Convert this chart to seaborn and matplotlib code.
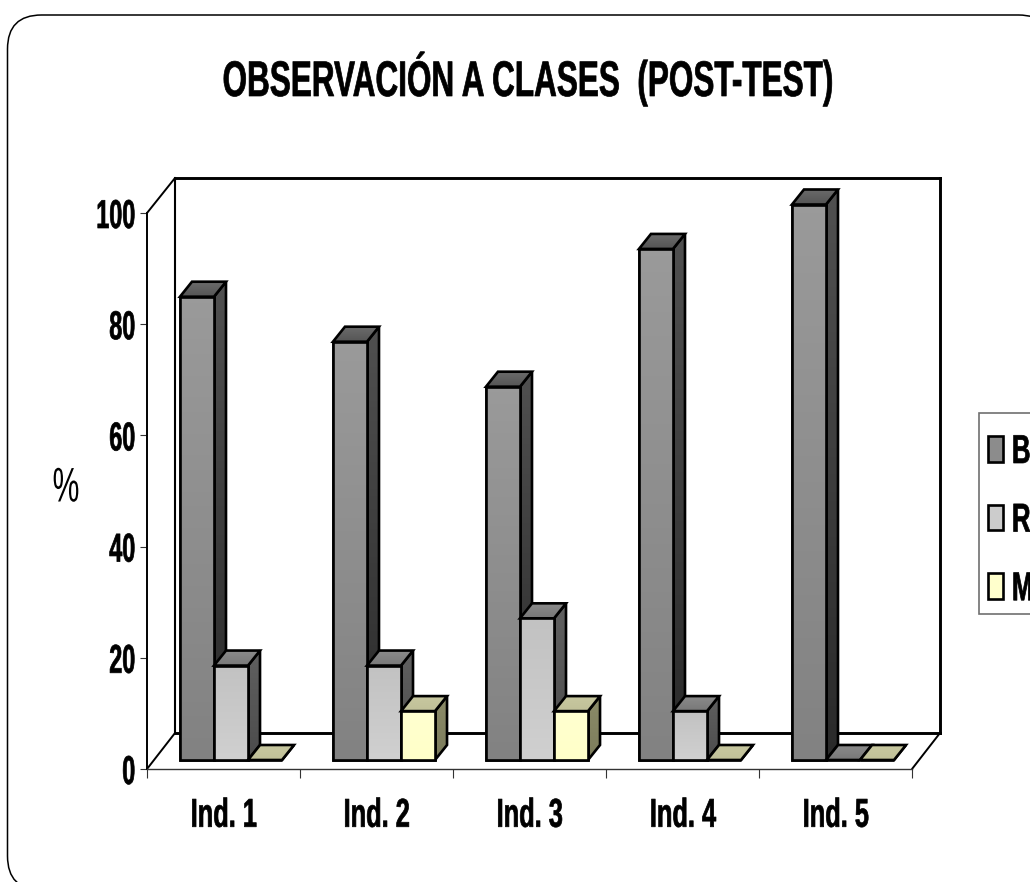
import matplotlib
matplotlib.use('Agg')
import matplotlib.pyplot as plt
import numpy as np
import pandas as pd
import seaborn as sns
from matplotlib.colors import LinearSegmentedColormap
from matplotlib.patches import ConnectionPatch, FancyBboxPatch, Polygon, Rectangle
from matplotlib.patheffects import AbstractPathEffect
from matplotlib.transforms import Affine2D, IdentityTransform

# data
indicadores = ['Ind. 1', 'Ind. 2', 'Ind. 3', 'Ind. 4', 'Ind. 5']
serie_b = [83.4, 75.3, 67.2, 92, 100]
serie_r = [17, 17, 25.5, 8.8, 0]
serie_m = [0, 8.8, 8.8, 0, 0]
y_ticks = [0, 20, 40, 60, 80, 100]

W, H = 1030, 882
# depth of the fake 3d bars, group width is 153 px and 1% is 5.55 px
DX = 12 / 153
DY = 15 / 5.55
LW = 1.9

# colors: front top/bottom, side top/bottom, lid top/bottom
colores = {
    'B': ['#9a9a9a', '#828282', '#505050', '#2a2a2a', '#6c6c6c', '#555555'],
    'R': ['#c2c2c2', '#d0d0d0', '#606060', '#4c4c4c', '#8c8c8c', '#787878'],
    'M': ['#ffffd0', '#ffffc8', '#8c8c68', '#7c7c5c', '#c8c8a0', '#c0c098'],
}


class Squeeze(AbstractPathEffect):
    # the reference text is arial squeezed sideways and a bit heavier
    def __init__(self, factor, anchor=0.5, stroke=0.0):
        super().__init__()
        self.factor = factor
        self.anchor = anchor
        self.stroke = stroke

    def draw_path(self, renderer, gc, tpath, affine, rgbFace=None):
        box = tpath.transformed(affine).get_extents()
        x0 = box.x0 + self.anchor * box.width
        new = affine + Affine2D().translate(-x0, 0).scale(self.factor, 1).translate(x0, 0)
        gc0 = renderer.new_gc()
        gc0.copy_properties(gc)
        gc0.set_linewidth(self.stroke)
        gc0.set_foreground('black')
        renderer.draw_path(gc0, tpath, new, rgbFace)
        gc0.restore()


def px_axes(left, top, right, bottom, z):
    ax = fig.add_axes([left / W, 1 - bottom / H, (right - left) / W, (bottom - top) / H], zorder=z)
    ax.patch.set_alpha(0)
    return ax


def shaded(ax, xy, c_top, c_bottom, z):
    xy = np.array(xy)
    poly = Polygon(xy, closed=True, fc=c_bottom, ec='none', zorder=z, clip_on=False)
    ax.add_patch(poly)
    cmap = LinearSegmentedColormap.from_list('g', [c_top, c_bottom])
    ext = (xy[:, 0].min(), xy[:, 0].max(), xy[:, 1].min(), xy[:, 1].max())
    im = ax.imshow(np.linspace(0, 1, 64).reshape(-1, 1), cmap=cmap, extent=ext, origin='upper',
                   aspect='auto', zorder=z + 0.1)
    im.set_clip_box(fig.bbox)
    im.set_clip_path(poly)
    ax.add_patch(Polygon(xy, closed=True, fill=False, ec='black', lw=LW, zorder=z + 0.2,
                         clip_on=False, joinstyle='miter'))


sns.set_theme(style='white')
plt.rcParams['font.family'] = ['Liberation Sans', 'DejaVu Sans']

fig = plt.figure(figsize=(W / 100, H / 100), dpi=100)

# rounded frame, runs off the right and bottom of the canvas
fig.add_artist(FancyBboxPatch((7.5, H - 890), 1045, 875, boxstyle='round,pad=0,rounding_size=34',
                              fc='white', ec='black', lw=1.1, transform=IdentityTransform()))
# legend frame, also runs off the right edge
fig.add_artist(Rectangle((979, H - 614), 70, 201, fc='white', ec='#707070', lw=1.2,
                         transform=IdentityTransform()))

# back wall
ax_back = px_axes(175, 178, 940, 733, 1)
ax_back.set_xticks([])
ax_back.set_yticks([])
for s in ax_back.spines.values():
    s.set_linewidth(2.1)
    s.set_color('black')
ax_back.spines['left'].set_linewidth(1.5)

# front plane with the real axis
ax_front = px_axes(147, 213, 912, 769, 2)
ax_front.set_xlim(-0.5, 4.5)
ax_front.set_ylim(0, 100)
ax_front.spines['top'].set_visible(False)
ax_front.spines['right'].set_visible(False)
ax_front.spines['left'].set_linewidth(1.4)
ax_front.spines['left'].set_color('black')
ax_front.spines['bottom'].set_linewidth(1.0)
ax_front.spines['bottom'].set_color('#333333')
ax_front.set_yticks(y_ticks)
ax_front.set_xticks(np.arange(-0.5, 5))
ax_front.set_xticklabels([])
ax_front.set_xticks(range(5), indicadores, minor=True)
ax_front.tick_params(axis='y', length=5, width=0.8, color='#333333', left=True, pad=3)
ax_front.tick_params(axis='x', which='major', length=6.5, width=0.8, color='#333333', bottom=True)
ax_front.tick_params(axis='x', which='minor', length=0, pad=20)
for t in ax_front.get_yticklabels():
    t.set_fontsize(29)
    t.set_fontweight('bold')
    t.set_color('black')
    t.set_path_effects([Squeeze(0.58, 1, 0.5)])
for t in ax_front.get_xticklabels(minor=True):
    t.set_fontsize(29)
    t.set_fontweight('bold')
    t.set_color('black')
    t.set_path_effects([Squeeze(0.63, 0.5, 0.5)])
ylab = ax_front.set_ylabel('%', rotation=0, fontsize=35, color='black', ha='center', va='center')
ax_front.yaxis.set_label_coords((66 - 147) / 765, (769 - 489) / 556)
ylab.set_path_effects([Squeeze(0.62)])

# side lines between the planes
for a, b in [((0, 1), (0, 1)), ((0, 0), (0, 0)), ((1, 0), (1, 0))]:
    fig.add_artist(ConnectionPatch(a, b, coordsA=ax_front.transAxes, coordsB=ax_back.transAxes,
                                   color='black', lw=1.4))

# bars
df = pd.DataFrame({
    'ind': indicadores * 3,
    'serie': ['B'] * 5 + ['R'] * 5 + ['M'] * 5,
    'valor': serie_b + serie_r + serie_m,
})
ax = px_axes(154.5, 204.5, 919.5, 760, 3)
sns.barplot(data=df, x='ind', y='valor', hue='serie', ax=ax, width=0.667, gap=0,
            palette={'B': '#8c8c8c', 'R': '#cccccc', 'M': '#ffffcc'},
            edgecolor='black', linewidth=LW, saturation=1, clip_on=False)
ax.set_xlim(-0.5, 4.5)
ax.set_ylim(0, 100)
ax.axis('off')

barras = []
for cont, serie in zip(ax.containers, ['B', 'R', 'M']):
    for p in cont:
        barras.append((p, serie))
barras.sort(key=lambda b: b[0].get_x())
for i, (p, serie) in enumerate(barras):
    x0, x1 = p.get_x(), p.get_x() + p.get_width()
    h = p.get_height()
    c = colores[serie]
    z = 10 + i
    shaded(ax, [(x1, 0), (x1 + DX, DY), (x1 + DX, h + DY), (x1, h)], c[2], c[3], z)
    shaded(ax, [(x0, h), (x0 + DX, h + DY), (x1 + DX, h + DY), (x1, h)], c[4], c[5], z + 0.3)
    if h > 0:
        p.set_zorder(z + 0.5)
        shaded(ax, [(x0, 0), (x0, h), (x1, h), (x1, 0)], c[0], c[1], z + 0.6)
ax.set_xlim(-0.5, 4.5)
ax.set_ylim(0, 100)

sns.move_legend(ax, 'upper left', bbox_to_anchor=(988 / W, 1 - 433 / H), bbox_transform=fig.transFigure,
                title=None, frameon=False, fontsize=29,
                borderaxespad=0, borderpad=0, handlelength=0.37, handleheight=0.6,
                handletextpad=0.2, labelspacing=0.76)
leg = ax.get_legend()
leg.set_zorder(100)
for t in leg.get_texts():
    t.set_fontweight('bold')
    t.set_color('black')
    t.set_path_effects([Squeeze(0.64, 0, 0.5)])

titulo = fig.text(528 / W, 1 - 96 / H, 'OBSERVACIÓN A CLASES  (POST-TEST)', fontsize=36, fontweight='bold',
                  color='black', ha='center', va='baseline')
titulo.set_path_effects([Squeeze(0.63, 0.5, 0.5)])

fig.savefig('out.png', dpi=100)
